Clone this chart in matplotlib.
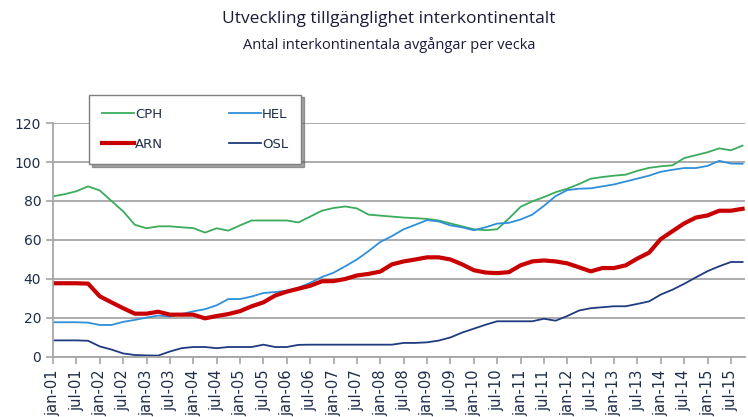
import numpy as np
from matplotlib import pyplot as plt

# quarterly readings (jan, apr, jul, oct), jan-01 .. oct-15
cph = [82.4, 83.5, 85.0, 87.5, 85.4, 80.0, 74.7, 67.8, 66.0, 67.0,
       67.0, 66.5, 66.1, 63.8, 66.0, 64.8, 67.5, 70.0, 70.0, 70.0,
       70.0, 69.0, 72.0, 75.0, 76.4, 77.2, 76.2, 73.0, 72.5, 72.0,
       71.5, 71.2, 70.8, 70.0, 68.5, 67.0, 65.5, 65.0, 65.5, 71.0,
       77.0, 79.8, 82.0, 84.5, 86.3, 88.7, 91.4, 92.3, 93.0, 93.5,
       95.5, 97.0, 97.8, 98.3, 102.0, 103.5, 105.0, 107.0, 106.0, 108.4]
hel = [17.8, 17.8, 17.8, 17.6, 16.4, 16.4, 18.0, 19.0, 20.2, 21.2,
       20.8, 22.0, 23.4, 24.5, 26.5, 29.7, 29.7, 31.0, 32.8, 33.3,
       34.0, 35.5, 38.0, 41.0, 43.2, 46.5, 50.0, 54.3, 59.0, 62.0,
       65.5, 67.8, 70.2, 69.5, 67.5, 66.5, 65.0, 66.5, 68.4, 68.8,
       70.5, 73.0, 77.5, 82.5, 85.6, 86.3, 86.5, 87.5, 88.5, 90.0,
       91.5, 93.0, 95.0, 96.0, 96.9, 96.9, 98.0, 100.6, 99.2, 99.1]
arn = [37.8, 37.8, 37.8, 37.6, 31.1, 28.0, 25.0, 22.2, 22.2, 23.2,
       21.7, 21.7, 21.7, 19.8, 21.0, 22.0, 23.5, 26.0, 28.0, 31.5,
       33.5, 35.0, 36.5, 38.8, 38.9, 40.0, 41.8, 42.6, 43.8, 47.5,
       49.0, 50.0, 51.1, 51.1, 50.0, 47.5, 44.5, 43.3, 43.0, 43.5,
       47.0, 49.0, 49.5, 49.0, 48.0, 46.0, 43.9, 45.6, 45.6, 47.0,
       50.5, 53.5, 60.5, 64.5, 68.5, 71.5, 72.6, 75.0, 75.0, 76.0]
osl = [8.5, 8.5, 8.5, 8.3, 5.4, 3.8, 1.8, 1.0, 0.8, 0.7,
       2.8, 4.5, 5.1, 5.1, 4.5, 5.1, 5.1, 5.1, 6.3, 5.1,
       5.1, 6.2, 6.3, 6.3, 6.3, 6.3, 6.3, 6.3, 6.3, 6.3,
       7.2, 7.2, 7.5, 8.4, 10.0, 12.5, 14.5, 16.5, 18.3, 18.3,
       18.3, 18.3, 19.6, 18.6, 21.0, 23.8, 25.0, 25.5, 26.0, 26.0,
       27.2, 28.5, 32.0, 34.5, 37.5, 40.8, 44.0, 46.5, 48.7, 48.7]

years = list(range(2001, 2016))
tick_labels = [f'{mon}-{y % 100:02d}' for y in years for mon in ('jan', 'jul')]

months = np.arange(len(cph)) * 3
tick_pos = np.arange(len(tick_labels)) * 6

fig = plt.figure(figsize=(7.48, 4.17), dpi=100)
ax = fig.add_axes([0.0709, 0.144, 0.925, 0.561])

l_cph, = ax.plot(months, cph, color='#3aac5c', lw=1.3, label='CPH')
l_hel, = ax.plot(months, hel, color='#2f8fd9', lw=1.3, label='HEL')
l_arn, = ax.plot(months, arn, color='#c80000', lw=3.0, label='ARN')
l_osl, = ax.plot(months, osl, color='#1f3c80', lw=1.3, label='OSL')

ax.set_xlim(0, 177.6)
ax.set_ylim(0, 120)
ax.set_yticks(range(0, 121, 20))
ax.yaxis.grid(True, color='#a6a6a6', lw=1.3)
ax.set_axisbelow(True)
ax.set_xticks(tick_pos)
ax.set_xticklabels(tick_labels, rotation=90, fontsize=10.5, color='#1f2d4a',
                   va='top', ha='center')
ax.tick_params(axis='both', color='#a6a6a6', length=5, width=1.2)
ax.tick_params(axis='x', pad=4)
ax.tick_params(axis='y', labelsize=10, colors='#1f2d4a')
ax.tick_params(axis='y', color='#a6a6a6')
for s in ('top', 'right'):
    ax.spines[s].set_visible(False)
for s in ('left', 'bottom'):
    ax.spines[s].set_color('#a6a6a6')
    ax.spines[s].set_linewidth(1.3)

leg = fig.legend([l_cph, l_arn, l_hel, l_osl], ['CPH', 'ARN', 'HEL', 'OSL'],
                 ncol=2, loc='upper left', bbox_to_anchor=(0.119, 0.773),
                 fancybox=False, shadow=True, fontsize=9.5, handlelength=2.4,
                 columnspacing=5.0, handletextpad=0.1, borderpad=1.0,
                 labelspacing=1.3, borderaxespad=0)
leg.get_frame().set_edgecolor('#7f7f7f')
leg.get_frame().set_linewidth(1.0)
for t in leg.get_texts():
    t.set_color('#1f2d4a')

fig.text(0.52, 0.955, 'Utveckling tillgänglighet interkontinentalt',
         ha='center', va='center', fontsize=12.5, family='Open Sans', color='#1a1a3a')
fig.text(0.52, 0.893, 'Antal interkontinentala avgångar per vecka',
         ha='center', va='center', fontsize=10.5, family='Open Sans', color='#1a1a3a')

fig.savefig('out.png', dpi=100)
